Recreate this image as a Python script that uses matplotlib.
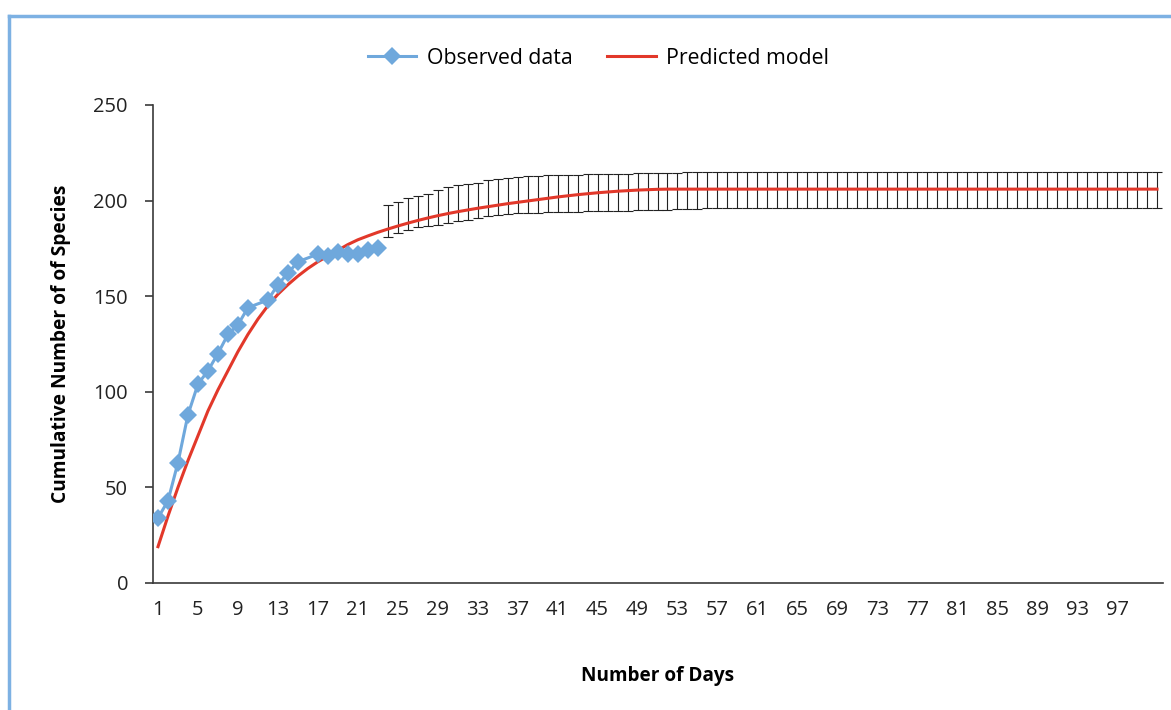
import matplotlib
matplotlib.use('Agg')
import matplotlib.pyplot as plt
from matplotlib.lines import Line2D
import numpy as np

# observed species accumulation (days with sampling)
obs_days = [1, 2, 3, 4, 5, 6, 7, 8, 9, 10, 12, 13, 14, 15, 17, 18, 19, 20, 21, 22, 23]
obs_vals = [34, 43, 63, 88, 104, 111, 120, 130, 135, 144, 148, 156, 162, 168,
            172, 171, 173, 172, 172, 174, 175]

# predicted model, days 1..101
pred_days = list(range(1, 102))
pred_vals = [19, 35, 50, 64, 77, 90, 101, 111, 121, 130,
             138, 145, 151, 156, 160.5, 164.5, 168, 171, 174, 177,
             179.5, 181.5, 183.4, 185.1, 186.7, 188.2, 189.6, 190.9, 192.1, 193.2,
             194.2, 195.1, 196.0, 196.8, 197.6, 198.4, 199.1, 199.8, 200.5, 201.2,
             201.9, 202.5, 203.1, 203.6, 204.1, 204.5, 204.9, 205.2, 205.5, 205.7,
             205.9, 206, 206, 206, 206, 206, 206, 206, 206, 206,
             206, 206, 206, 206, 206, 206, 206, 206, 206, 206,
             206, 206, 206, 206, 206, 206, 206, 206, 206, 206,
             206, 206, 206, 206, 206, 206, 206, 206, 206, 206,
             206, 206, 206, 206, 206, 206, 206, 206, 206, 206,
             206]

# error bar bounds for the extrapolated part, days 24..101
err_days = list(range(24, 102))
err_low = [181, 183, 184.6, 186.2, 186.8, 187.4, 188.5, 189.4, 190, 190.8,
           191.8, 192.5, 193, 193.3, 193.5, 193.6, 193.8, 194, 194.1, 194.2,
           194.3, 194.4, 194.5, 194.6, 194.8, 195, 195.1, 195.2, 195.3, 195.4,
           195.5, 195.6, 196, 196, 196, 196, 196, 196, 196, 196,
           196, 196, 196, 196, 196, 196, 196, 196, 196, 196,
           196, 196, 196, 196, 196, 196, 196, 196, 196, 196,
           196, 196, 196, 196, 196, 196, 196, 196, 196, 196,
           196, 196, 196, 196, 196, 196, 196, 196]
err_high = [197.7, 199.4, 201.2, 202.6, 203.5, 205.3, 207, 208, 208.7, 209.4,
            210.6, 211.1, 212, 212.4, 212.7, 213, 213.2, 213.4, 213.5, 213.6,
            213.7, 213.8, 213.9, 214, 214.1, 214.2, 214.3, 214.4, 214.5, 214.6,
            214.7, 214.8, 214.9, 215, 215, 215, 215, 215, 215, 215,
            215, 215, 215, 215, 215, 215, 215, 215, 215, 215,
            215, 215, 215, 215, 215, 215, 215, 215, 215, 215,
            215, 215, 215, 215, 215, 215, 215, 215, 215, 215,
            215, 215, 215, 215, 215, 215, 215, 215]

x_ticks = list(range(1, 98, 4))
y_ticks = [0, 50, 100, 150, 200, 250]

BLUE = '#6FA8DC'
RED = '#E2382A'
AXIS = '#3A3A3A'

plt.rcParams['font.family'] = ['Open Sans', 'DejaVu Sans']

fig = plt.figure(figsize=(11.71, 7.10), dpi=100)
ax = fig.add_axes([153 / 1171, 1 - 583 / 710, (1163 - 153) / 1171, 478 / 710])

# error bars around the model
pred_arr = np.array(pred_vals)
centre = pred_arr[np.array(err_days) - 1]
yerr = [centre - np.array(err_low), np.array(err_high) - centre]
ax.errorbar(err_days, centre, yerr=yerr, fmt='none', ecolor='#222222',
            elinewidth=0.8, capsize=3.3, capthick=0.8, zorder=2)

ax.plot(pred_days, pred_vals, color=RED, lw=2.2, zorder=3, label='Predicted model')
ax.plot(obs_days, obs_vals, color=BLUE, lw=2.2, marker='D', markersize=9,
        markeredgewidth=0, zorder=4, label='Observed data')

ax.set_xlim(0.5, 101.6)
ax.set_ylim(0, 250)
ax.set_xticks(x_ticks)
ax.set_yticks(y_ticks)
ax.tick_params(axis='x', length=0, pad=12, labelsize=14.5, colors='#222222')
ax.tick_params(axis='y', direction='out', length=6, width=1.2, pad=12,
               labelsize=14.5, colors=AXIS, labelcolor='#222222')

for s in ['top', 'right']:
    ax.spines[s].set_visible(False)
for s in ['left', 'bottom']:
    ax.spines[s].set_color(AXIS)
    ax.spines[s].set_linewidth(1.2)

ax.set_ylabel('Cumulative Number of of Species', fontsize=13.8, fontweight='bold',
              labelpad=16)
ax.set_xlabel('Number of Days', fontsize=13.7, fontweight='bold', labelpad=33)

handles = [Line2D([], [], color=BLUE, lw=2.2, marker='D', markersize=9, markeredgewidth=0),
           Line2D([], [], color=RED, lw=2.2)]
fig.legend(handles, ['Observed data', 'Predicted model'], loc='center',
           bbox_to_anchor=(0.511, 0.918), ncol=2, frameon=False, fontsize=15.3,
           handlelength=2.3, columnspacing=1.6, handletextpad=0.5)

# light blue frame (left and top edges)
fig.add_artist(Line2D([9 / 1171, 9 / 1171], [0, 1 - 16 / 710], color='#7DB1E3',
                      lw=2.5, transform=fig.transFigure))
fig.add_artist(Line2D([9 / 1171, 1], [1 - 16 / 710, 1 - 16 / 710], color='#7DB1E3',
                      lw=2.5, transform=fig.transFigure))

fig.savefig('out.png', dpi=100)
